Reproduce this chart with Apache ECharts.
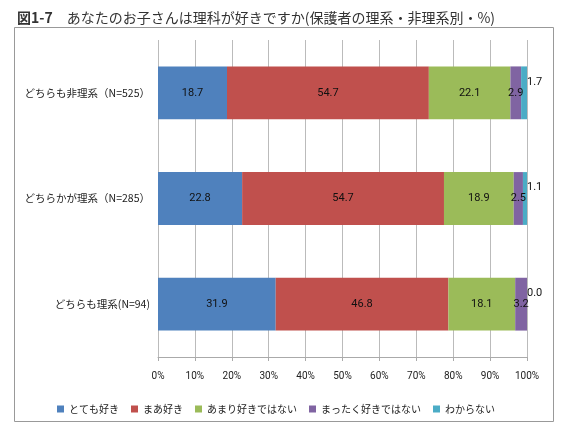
<!DOCTYPE html>
<html>
<head>
<meta charset="utf-8">
<script src="https://cdn.jsdelivr.net/npm/echarts@6/dist/echarts.min.js"></script>
<style>
  html, body { margin: 0; padding: 0; background: #fff; }
  #chart { width: 571px; height: 436px; }
</style>
</head>
<body>
<div id="chart"></div>
<script>
  var categories = ['どちらも非理系（N=525）', 'どちらかが理系（N=285）', 'どちらも理系(N=94)'];
  var seriesNames = ['とても好き', 'まあ好き', 'あまり好きではない', 'まったく好きではない', 'わからない'];
  var verySame = [18.7, 22.8, 31.9];
  var ratherLike = [54.7, 54.7, 46.8];
  var notMuch = [22.1, 18.9, 18.1];
  var notAtAll = [2.9, 2.5, 3.2];
  var dontKnow = [1.7, 1.1, 0.0];
  var xTicks = [0, 10, 20, 30, 40, 50, 60, 70, 80, 90, 100];
  var colors = ['#4F81BD', '#C0504D', '#9BBB59', '#8064A2', '#4BACC6'];

  var font = '"Noto Sans CJK JP", "Noto Sans", sans-serif';
  var values = [verySame, ratherLike, notMuch, notAtAll, dontKnow];

  var series = values.map(function (arr, i) {
    var last = i == values.length - 1;
    return {
      name: seriesNames[i],
      type: 'bar',
      stack: 'total',
      barWidth: '50%',
      itemStyle: { color: colors[i] },
      data: arr,
      label: {
        show: true,
        position: last ? 'right' : 'inside',
        distance: 0,
        offset: last ? [0, -11] : [0, 0],
        color: '#111',
        fontSize: 11,
        fontFamily: 'Roboto, sans-serif',
        formatter: function (p) { return Number(p.value).toFixed(1); }
      }
    };
  });

  var option = {
    backgroundColor: '#fff',
    animation: false,
    title: {
      text: '{b|図1-7}　あなたのお子さんは理科が好きですか(保護者の理系・非理系別・%)',
      left: 12,
      top: 6,
      textStyle: {
        fontFamily: font, fontSize: 14, fontWeight: 'normal', color: '#333',
        rich: { b: { fontFamily: font, fontSize: 14, fontWeight: 'bold', color: '#333' } }
      }
    },
    graphic: [{
      type: 'rect',
      shape: { x: 14.5, y: 27.5, width: 539, height: 394 },
      style: { fill: 'none', stroke: '#999', lineWidth: 1 },
      z: 0
    }],
    legend: {
      left: 52,
      top: 399,
      width: 500,
      icon: 'rect',
      itemWidth: 7,
      itemHeight: 7,
      itemGap: 12,
      textStyle: { fontFamily: font, fontSize: 10, color: '#222' },
      data: seriesNames
    },
    grid: { left: 158, right: 44, top: 40, bottom: 79 },
    xAxis: {
      type: 'value',
      min: 0,
      max: 100,
      interval: 10,
      axisLine: { show: true, lineStyle: { color: '#aaa' } },
      axisTick: { show: true, length: 4, lineStyle: { color: '#aaa' } },
      splitLine: { show: true, lineStyle: { color: '#bbb', width: 1 } },
      axisLabel: {
        margin: 14,
        fontSize: 10,
        color: '#222',
        fontFamily: 'Roboto, sans-serif',
        formatter: function (v) { return xTicks.indexOf(v) >= 0 ? v + '%' : ''; }
      }
    },
    yAxis: {
      type: 'category',
      inverse: true,
      data: categories,
      axisLine: { show: false },
      axisTick: { show: false },
      axisLabel: { margin: 8, fontSize: 10.5, color: '#222', fontFamily: font }
    },
    series: series
  };

  var echart = echarts.init(document.getElementById('chart'));
  echart.setOption(option);
</script>
</body>
</html>
